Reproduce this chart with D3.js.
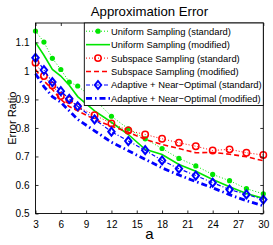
<!DOCTYPE html>
<html><head><meta charset="utf-8">
<script src="https://cdn.jsdelivr.net/npm/d3@7"></script>
<style>
html,body{margin:0;padding:0;background:#fff;}
svg{display:block;font-family:"Liberation Sans",Arial,sans-serif;}
</style></head>
<body>
<svg id="chart" width="273" height="245"></svg>
<script>
const xValues = [3,4,5,6,7,8,10,12,14,16,18,20,22,24,26,28,30];
const uniformStandard  = [1.140,1.101,1.044,1.005,0.961,0.947,0.900,0.841,0.797,0.762,0.728,0.693,0.667,0.637,0.615,0.587,0.569];
const uniformModified  = [1.100,1.055,1.005,0.982,0.950,0.910,0.860,0.820,0.777,0.725,0.707,0.672,0.648,0.619,0.594,0.570,0.553];
const subspaceStandard = [1.029,0.982,0.949,0.912,0.898,0.874,0.845,0.816,0.791,0.777,0.762,0.748,0.736,0.721,0.725,0.713,0.705];
const subspaceModified = [1.005,0.965,0.935,0.900,0.875,0.860,0.830,0.806,0.785,0.760,0.742,0.728,0.713,0.714,0.708,0.699,0.685];
const adaptiveStandard = [1.046,1.003,0.961,0.929,0.902,0.876,0.830,0.787,0.754,0.722,0.686,0.657,0.633,0.608,0.584,0.567,0.549];
const adaptiveModified = [0.990,0.945,0.910,0.890,0.860,0.830,0.790,0.750,0.720,0.690,0.660,0.635,0.612,0.590,0.566,0.545,0.527];
const seriesNames = ["Uniform Sampling (standard)","Uniform Sampling (modified)","Subspace Sampling (standard)","Subspace Sampling (modified)","Adaptive + Near\u2212Optimal (standard)","Adaptive + Near\u2212Optimal (modified)"];
const xTicks = [3,6,9,12,15,18,21,24,27,30];
const yTicks = [0.5,0.6,0.7,0.8,0.9,1.0,1.1];
const yTickLabels = ["0.5","0.6","0.7","0.8","0.9","1","1.1"];

const G="#00e600", R="#ff0000", B="#0000ff";
const styles = [
  {values:uniformStandard, color:G, width:1, dash:"1,2", marker:"dot"},
  {values:uniformModified, color:G, width:1.6, dash:null, marker:null},
  {values:subspaceStandard, color:R, width:1, dash:"1,2", marker:"circle"},
  {values:subspaceModified, color:R, width:1.6, dash:"5,3", marker:null},
  {values:adaptiveStandard, color:B, width:1.2, dash:"4,2,1,2", marker:"diamond"},
  {values:adaptiveModified, color:B, width:2.8, dash:"6,3,1.5,3", marker:null}
];

const svg = d3.select("#chart");
const L=35.5, Rt=263.3, T=23, Bm=213.5;
const x = d3.scaleLinear().domain([3,30]).range([L,Rt]);
const y = d3.scaleLinear().domain([0.5,1.168]).range([Bm,T]);

const plot = svg.append("g");
const line = d3.line().x((d,i)=>x(xValues[i])).y(d=>y(d));

function drawMarker(g, type, cx, cy, color){
  if(type==="dot") g.append("circle").attr("cx",cx).attr("cy",cy).attr("r",2.6).attr("fill",color);
  else if(type==="circle") g.append("circle").attr("cx",cx).attr("cy",cy).attr("r",3.2).attr("fill","none").attr("stroke",color).attr("stroke-width",1.5);
  else if(type==="diamond") g.append("path").attr("d",`M${cx},${cy-4}L${cx+3.2},${cy}L${cx},${cy+4}L${cx-3.2},${cy}Z`).attr("fill","none").attr("stroke",color).attr("stroke-width",2);
}

styles.forEach(s=>{
  plot.append("path").attr("d",line(s.values)).attr("fill","none")
    .attr("stroke",s.color).attr("stroke-width",s.width)
    .attr("stroke-dasharray",s.dash);
  if(s.marker) s.values.forEach((v,i)=>drawMarker(plot,s.marker,x(xValues[i]),y(v),s.color));
});

// axes (MATLAB box style, inward ticks)
const tl=3;
const axB = d3.axisBottom(x).tickValues(xTicks).tickSize(-tl).tickPadding(4+tl);
const axL = d3.axisLeft(y).tickValues(yTicks).tickFormat((d,i)=>yTickLabels[i]).tickSize(-tl).tickPadding(3+tl);
const axT = d3.axisTop(x).tickValues(xTicks).tickSize(-tl).tickFormat("");
const axR = d3.axisRight(y).tickValues(yTicks).tickSize(-tl).tickFormat("");
function styleAxis(g){
  g.select(".domain").remove();
  g.selectAll("line").attr("stroke","#000").attr("stroke-width",0.8);
  g.selectAll("text").attr("font-size","10px").attr("fill","#000").attr("font-family","Liberation Sans, Arial, sans-serif");
}
svg.append("g").attr("transform",`translate(0,${Bm})`).call(axB).call(styleAxis);
svg.append("g").attr("transform",`translate(${L},0)`).call(axL).call(styleAxis);
svg.append("g").attr("transform",`translate(0,${T})`).call(axT).call(styleAxis);
svg.append("g").attr("transform",`translate(${Rt},0)`).call(axR).call(styleAxis);
svg.append("rect").attr("x",L).attr("y",T).attr("width",Rt-L).attr("height",Bm-T)
  .attr("fill","none").attr("stroke","#000").attr("stroke-width",0.9);

// legend
const lg = svg.append("g");
const lx=84.3, ly=23, lw=Rt-84.3, lh=82.5;
lg.append("rect").attr("x",lx).attr("y",ly).attr("width",lw).attr("height",lh)
  .attr("fill","#fff").attr("stroke","#000").attr("stroke-width",0.9);
styles.forEach((s,i)=>{
  const cy = 31.2 + i*13.45;
  lg.append("line").attr("x1",86).attr("x2",110).attr("y1",cy).attr("y2",cy)
    .attr("stroke",s.color).attr("stroke-width",s.width).attr("stroke-dasharray",s.dash);
  if(s.marker) drawMarker(lg,s.marker,98,cy,s.color);
  lg.append("text").attr("x",111).attr("y",cy+3.4).attr("font-size","9.4px").text(seriesNames[i]);
});

// labels
svg.append("text").attr("x",(L+Rt)/2).attr("y",15.5).attr("text-anchor","middle")
  .attr("font-size","13.2px").text("Approximation Error");
svg.append("text").attr("transform",`translate(15.5,${(T+Bm)/2}) rotate(-90)`)
  .attr("text-anchor","middle").attr("font-size","11px").text("Error Ratio");
svg.append("text").attr("x",(L+Rt)/2).attr("y",239).attr("text-anchor","middle")
  .attr("font-size","15px").text("a");
</script>
</body></html>
